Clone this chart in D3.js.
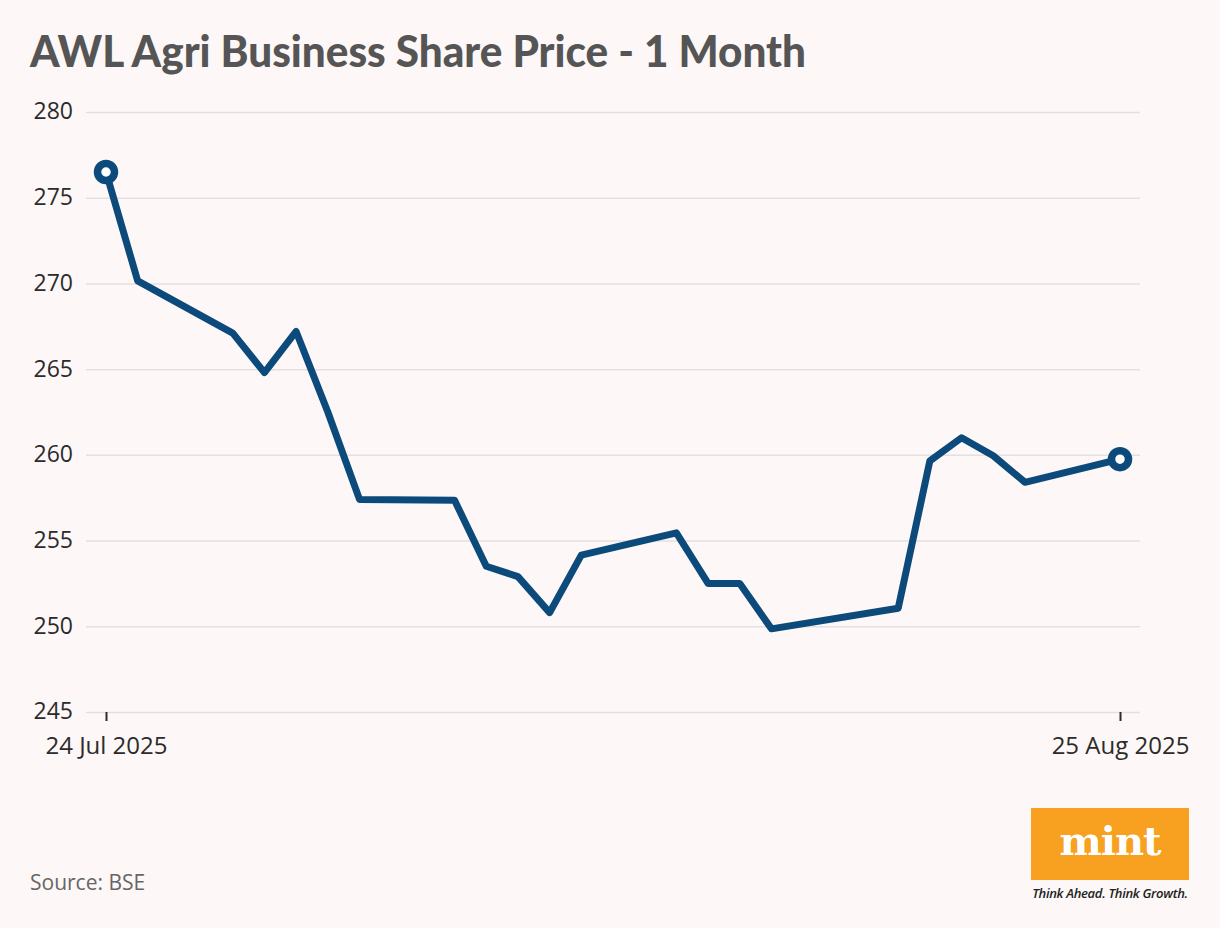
<!DOCTYPE html>
<html>
<head>
<meta charset="utf-8">
<script src="https://cdn.jsdelivr.net/npm/d3@7"></script>
<style>
  body { margin: 0; background: #fdf8f7; }
  svg { display: block; }
</style>
</head>
<body>
<div id="main"></div>
<script>
const ctx = {
    w: 1220,
    h: 928,
    left: 106,
    right: 1120,
    top: 112,
    bottom: 712,
    lineColor: "#0b4a7a",
    gridColor: "#e3e0df",
    textColor: "#2b2b2b",
};

// trading days (Aug 15 is a market holiday)
const DATES = ["2025-07-24", "2025-07-25", "2025-07-28", "2025-07-29", "2025-07-30", "2025-07-31",
    "2025-08-01", "2025-08-04", "2025-08-05", "2025-08-06", "2025-08-07", "2025-08-08",
    "2025-08-11", "2025-08-12", "2025-08-13", "2025-08-14", "2025-08-18", "2025-08-19",
    "2025-08-20", "2025-08-21", "2025-08-22", "2025-08-25"];
const PRICES = [276.5, 270.15, 267.1, 264.8, 267.2, 262.5,
    257.4, 257.35, 253.5, 252.9, 250.8, 254.15,
    255.45, 252.5, 252.5, 249.85, 251.05, 259.65,
    261.0, 259.95, 258.4, 259.75];
const Y_TICKS = [245, 250, 255, 260, 265, 270, 275, 280];
const X_TICKS = ["2025-07-24", "2025-08-25"];

const parse = d3.timeParse("%Y-%m-%d");
const fmt = d3.timeFormat("%-d %b %Y");

function createViz() {
    let svgEl = d3.select("#main").append("svg")
        .attr("width", ctx.w)
        .attr("height", ctx.h);
    svgEl.append("rect").attr("width", ctx.w).attr("height", ctx.h).attr("fill", "#fdf8f7");

    let data = DATES.map((d, i) => ({ date: parse(d), v: PRICES[i] }));

    let x = d3.scaleTime()
        .domain(d3.extent(data, d => d.date))
        .range([ctx.left, ctx.right]);
    let y = d3.scaleLinear()
        .domain([245, 280])
        .range([ctx.bottom, ctx.top]);

    // title
    svgEl.append("text")
        .attr("x", 30).attr("y", 67)
        .attr("font-family", "Lato")
        .attr("font-weight", 900)
        .attr("font-size", 43)
        .attr("textLength", 776)
        .attr("lengthAdjust", "spacingAndGlyphs")
        .attr("fill", "#555555")
        .text("AWL Agri Business Share Price - 1 Month");

    // y grid + labels
    let yAxis = svgEl.append("g")
        .attr("transform", `translate(86,0)`)
        .call(d3.axisLeft(y).tickValues(Y_TICKS).tickSize(-(1140 - 86)).tickPadding(13));
    yAxis.select(".domain").remove();
    yAxis.selectAll(".tick line").attr("stroke", ctx.gridColor).attr("stroke-width", 1.5);
    yAxis.selectAll(".tick text")
        .attr("font-family", "Open Sans")
        .attr("font-size", 23)
        .attr("fill", ctx.textColor)
        .attr("dy", "0.3em");

    // x axis
    let xAxis = svgEl.append("g")
        .attr("transform", `translate(0,${ctx.bottom})`)
        .call(d3.axisBottom(x).tickValues(X_TICKS.map(parse)).tickFormat(fmt).tickSize(9).tickPadding(16));
    xAxis.select(".domain").remove();
    xAxis.selectAll(".tick line").attr("stroke", ctx.textColor).attr("stroke-width", 2);
    xAxis.selectAll(".tick text")
        .attr("font-family", "Open Sans")
        .attr("font-size", 24)
        .attr("fill", ctx.textColor);

    // line
    svgEl.append("path")
        .datum(data)
        .attr("fill", "none")
        .attr("stroke", ctx.lineColor)
        .attr("stroke-width", 7)
        .attr("stroke-linejoin", "round")
        .attr("d", d3.line().x(d => x(d.date)).y(d => y(d.v)));

    // end markers
    svgEl.selectAll("circle.end")
        .data([data[0], data[data.length - 1]])
        .enter()
        .append("circle")
        .attr("class", "end")
        .attr("cx", d => x(d.date))
        .attr("cy", d => y(d.v))
        .attr("r", 8.5)
        .attr("fill", "#ffffff")
        .attr("stroke", ctx.lineColor)
        .attr("stroke-width", 7.5);

    // source
    svgEl.append("text")
        .attr("x", 30).attr("y", 890)
        .attr("font-family", "Open Sans")
        .attr("font-size", 21)
        .attr("fill", "#666666")
        .text("Source: BSE");

    // mint logo
    let logo = svgEl.append("g");
    logo.append("rect")
        .attr("x", 1031).attr("y", 808)
        .attr("width", 158).attr("height", 72)
        .attr("fill", "#f8a01f");
    logo.append("text")
        .attr("x", 1110).attr("y", 855)
        .attr("text-anchor", "middle")
        .attr("font-family", "DejaVu Serif")
        .attr("font-weight", "bold")
        .attr("font-size", 40)
        .attr("letter-spacing", -1)
        .attr("fill", "#ffffff")
        .text("mint");
    logo.append("text")
        .attr("x", 1110).attr("y", 898)
        .attr("text-anchor", "middle")
        .attr("font-family", "Open Sans")
        .attr("font-style", "italic")
        .attr("font-weight", 600)
        .attr("font-size", 13)
        .attr("letter-spacing", -0.3)
        .attr("fill", "#222222")
        .text("Think Ahead. Think Growth.");
}

createViz();
</script>
</body>
</html>
